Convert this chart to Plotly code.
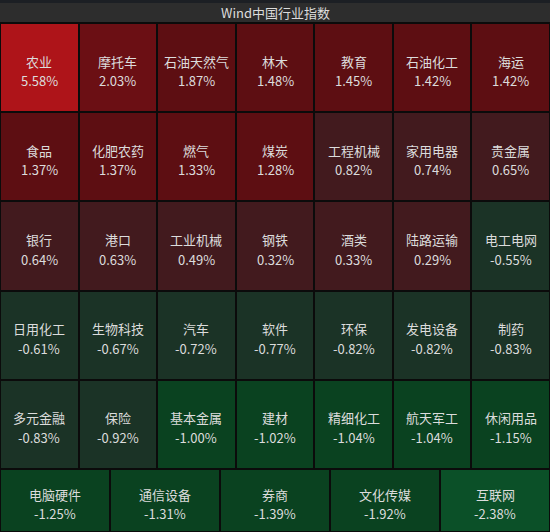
import numpy as np
import plotly.graph_objects as go

# ---- data ----
industries = [
    "农业", "摩托车", "石油天然气", "林木", "教育", "石油化工", "海运",
    "食品", "化肥农药", "燃气", "煤炭", "工程机械", "家用电器", "贵金属",
    "银行", "港口", "工业机械", "钢铁", "酒类", "陆路运输", "电工电网",
    "日用化工", "生物科技", "汽车", "软件", "环保", "发电设备", "制药",
    "多元金融", "保险", "基本金属", "建材", "精细化工", "航天军工", "休闲用品",
    "电脑硬件", "通信设备", "券商", "文化传媒", "互联网",
]
changes = [
    5.58, 2.03, 1.87, 1.48, 1.45, 1.42, 1.42,
    1.37, 1.37, 1.33, 1.28, 0.82, 0.74, 0.65,
    0.64, 0.63, 0.49, 0.32, 0.33, 0.29, -0.55,
    -0.61, -0.67, -0.72, -0.77, -0.82, -0.82, -0.83,
    -0.83, -0.92, -1.00, -1.02, -1.04, -1.04, -1.15,
    -1.25, -1.31, -1.39, -1.92, -2.38,
]
title_text = "Wind中国行业指数"

# ---- colour bins ----
bin_edges = [-2, -1, 0, 1, 2, 5]
bin_colors = ["#0b5028", "#0a4220", "#1b3326", "#421a1e", "#5d0e12", "#6b0f14", "#ae1419"]
n_bins = len(bin_colors)
scale = []
for k, c in enumerate(bin_colors):
    scale.append([k / n_bins, c])
    scale.append([(k + 1) / n_bins, c])

vals = np.array(changes)
zidx = np.digitize(vals, bin_edges, right=True)

ncol = 7
ngrid = 35
nrow = ngrid // ncol
grid_z = zidx[:ngrid].reshape(nrow, ncol)
last_z = zidx[ngrid:].reshape(1, -1)
nlast = last_z.shape[1]

H = 532
fam = "Noto Sans CJK SC"
txtfont = dict(family=fam, size=13, color="#dcdcdc")
common = dict(colorscale=scale, zmin=-0.5, zmax=n_bins - 0.5, showscale=False,
              xgap=2, ygap=2, hoverinfo="skip")

fig = go.Figure()
fig.add_trace(go.Heatmap(z=grid_z, x=list(range(ncol)), y=list(range(nrow)),
                         xaxis="x", yaxis="y", **common))
fig.add_trace(go.Heatmap(z=last_z, x=list(range(nlast)), y=[0],
                         xaxis="x2", yaxis="y2", **common))

annotations = []
for i, (name, v) in enumerate(zip(industries, changes)):
    if i < ngrid:
        cx, cy, xr, yr = i % ncol, i // ncol, "x", "y"
    else:
        cx, cy, xr, yr = i - ngrid, 0, "x2", "y2"
    annotations.append(dict(text=name, x=cx, y=cy, xref=xr, yref=yr, showarrow=False,
                            yshift=6.5, yanchor="middle", font=txtfont))
    annotations.append(dict(text=f"{v:.2f}%", x=cx, y=cy, xref=xr, yref=yr,
                            showarrow=False, yshift=-13, yanchor="middle", font=txtfont))

annotations.append(dict(text=title_text, xref="paper", yref="paper", x=0.5,
                        y=(H - 12.5) / H, showarrow=False, yanchor="middle",
                        font=dict(family=fam, size=13, color="#dcdcdc")))

y_split = (H - 469) / H
y_top = (H - 23) / H
fig.update_layout(
    width=550, height=532,
    margin=dict(l=0, r=0, t=0, b=0),
    paper_bgcolor="#0b0b0b", plot_bgcolor="#0b0b0b",
    xaxis=dict(domain=[0, 1], range=[-0.5, ncol - 0.5], visible=False, fixedrange=True),
    yaxis=dict(domain=[y_split, y_top], range=[nrow - 0.5, -0.5], visible=False,
               fixedrange=True),
    xaxis2=dict(domain=[0, 1], range=[-0.5, nlast - 0.5], visible=False,
                anchor="y2", fixedrange=True),
    yaxis2=dict(domain=[0, y_split], range=[-0.5, 0.5], visible=False, anchor="x2",
                fixedrange=True),
    shapes=[
        dict(type="rect", xref="paper", yref="paper", x0=0, x1=1,
             y0=(H - 3) / H, y1=1, fillcolor="#1c1f24", line_width=0, layer="below"),
        dict(type="rect", xref="paper", yref="paper", x0=0, x1=1,
             y0=(H - 22) / H, y1=(H - 3) / H, fillcolor="#2d2d2d", line_width=0,
             layer="below"),
    ],
    annotations=annotations,
    showlegend=False,
)

fig.write_html(
    "out.html",
    config={"displayModeBar": False},
    post_script="document.body.style.margin='0';document.body.style.overflow='hidden';",
)
